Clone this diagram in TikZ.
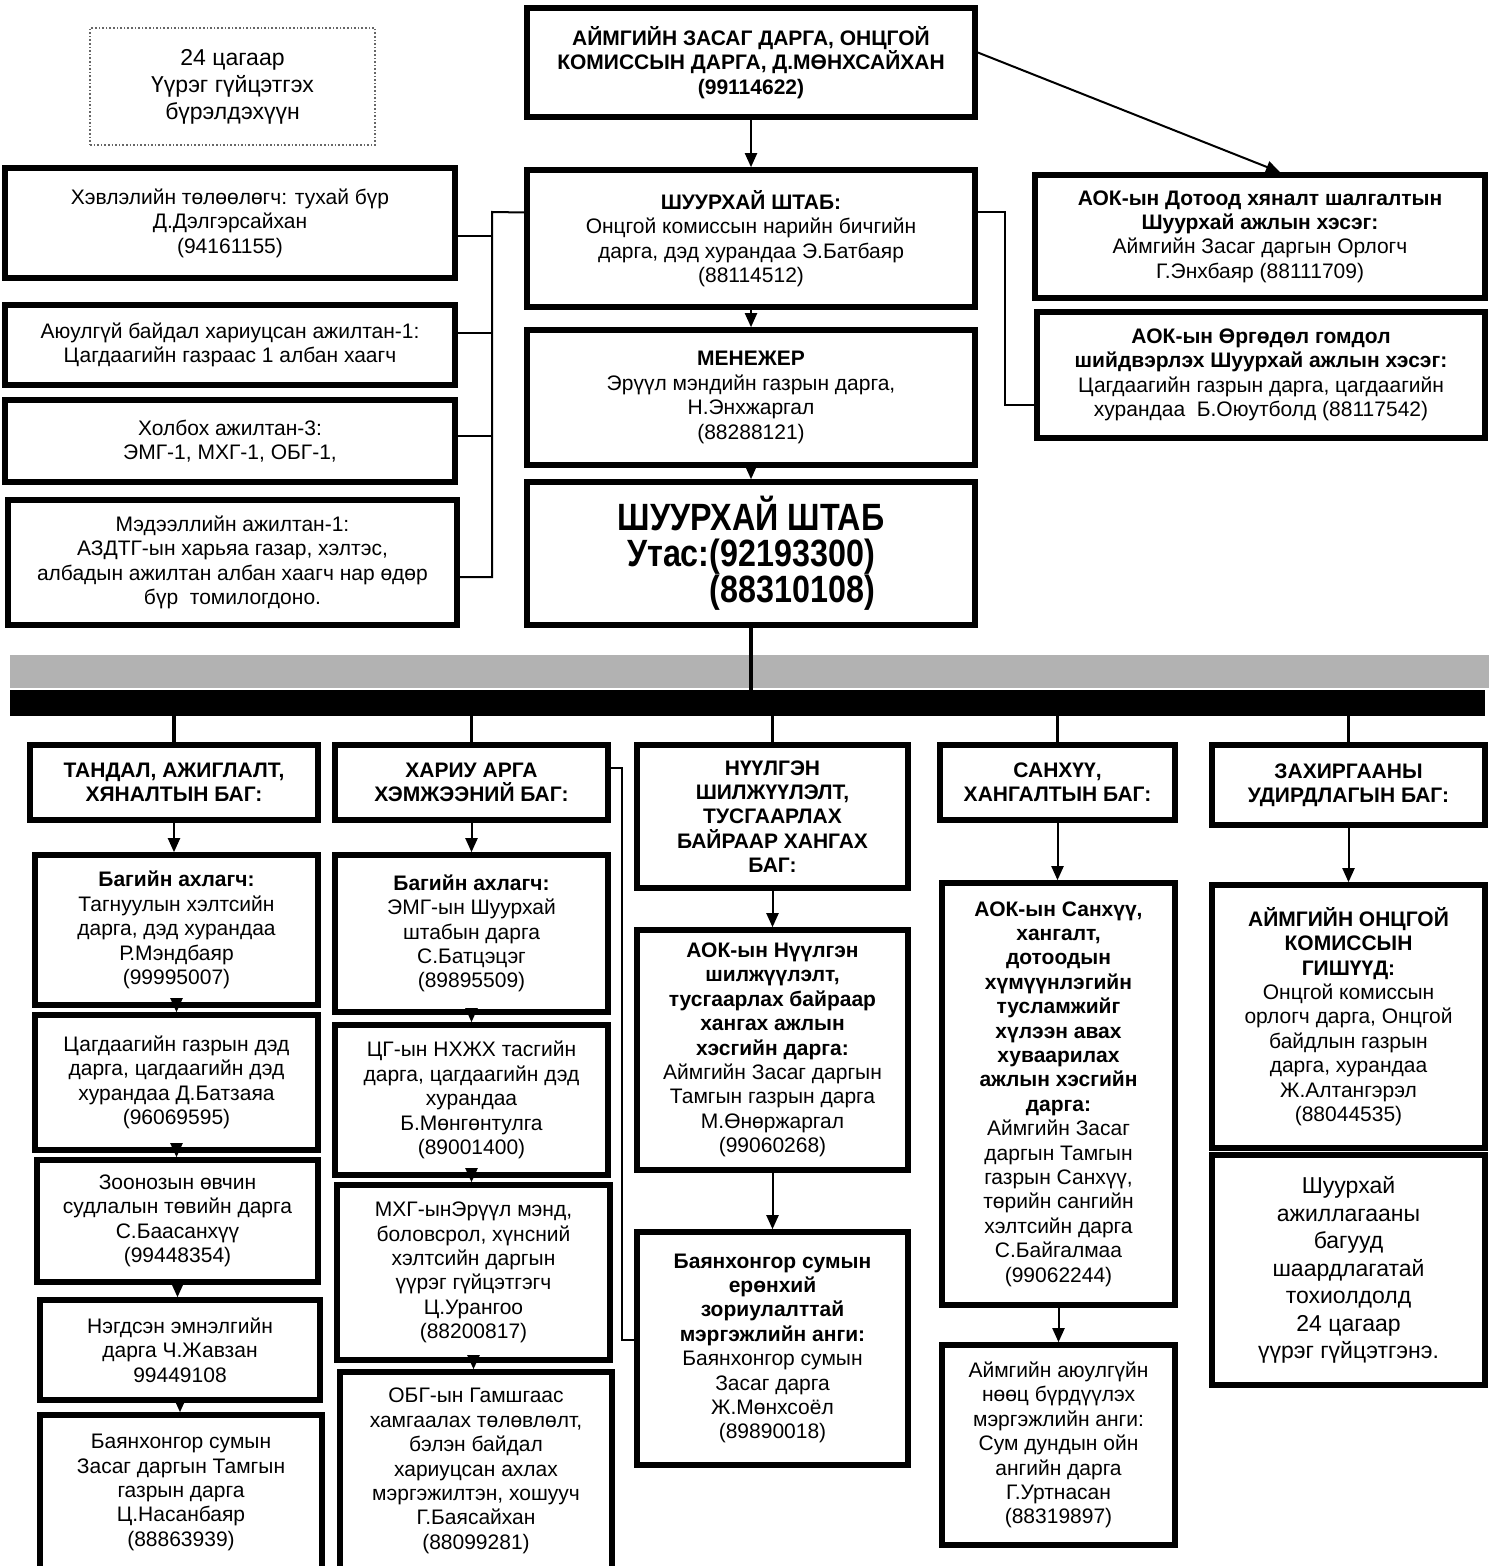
\documentclass[tikz,border=0pt]{standalone}
\usepackage{fontspec}
\setmainfont{Liberation Sans}
\newfontfamily\narrowsans[FakeStretch=0.85]{Liberation Sans}
\usetikzlibrary{arrows.meta}

\begin{document}
\begin{tikzpicture}[x=0.5pt,y=-0.5pt,
    box/.style={draw,line width=2.8pt,align=center,inner sep=2pt,font=\fontsize{10.5}{12.2}\selectfont},
    link/.style={line width=1pt},
    drop/.style={line width=1.6pt},
    arr/.style={line width=1pt,-{Triangle[length=7pt,width=6pt]}}]
    \useasboundingbox (0,0) rectangle (1489,1566);

    % upper part
    \node[draw=gray!80!black,densely dotted,line width=0.8pt,align=center,minimum width=142.5pt,minimum height=58.5pt,font=\fontsize{11.5}{13.5}\selectfont] (note) at (232.5,86.5) {24 цагаар\\Үүрэг гүйцэтгэх\\бүрэлдэхүүн};
    \node[box,minimum width=224pt,minimum height=54.5pt] (head) at (751,62.5) {\bfseries АЙМГИЙН ЗАСАГ ДАРГА, ОНЦГОЙ\\\bfseries КОМИССЫН ДАРГА, Д.МӨНХСАЙХАН\\\bfseries (99114622)};
    \node[box,minimum width=224pt,minimum height=68.5pt] (shtab) at (751,238.5) {\textbf{ШУУРХАЙ ШТАБ:}\\Онцгой комиссын нарийн бичгийн\\дарга, дэд хурандаа Э.Батбаяр\\(88114512)};
    \node[box,minimum width=224pt,minimum height=67.5pt] (manager) at (751,397.5) {\textbf{МЕНЕЖЕР}\\Эрүүл мэндийн газрын дарга,\\Н.Энхжаргал\\(88288121)};
    \node[box,minimum width=224pt,minimum height=71.5pt,font=\narrowsans\bfseries\fontsize{19}{18}\selectfont] (hq) at (751,553.5) {ШУУРХАЙ ШТАБ\\Утас:(92193300)\\\hphantom{Утас:}(88310108)};

    \node[box,minimum width=225pt,minimum height=55pt] (press) at (230,223) {Хэвлэлийн төлөөлөгч: тухай бүр\\Д.Дэлгэрсайхан\\(94161155)};
    \node[box,minimum width=225pt,minimum height=40pt] (safety) at (230,345) {Аюулгүй байдал хариуцсан ажилтан-1:\\Цагдаагийн газраас 1 албан хаагч};
    \node[box,minimum width=225pt,minimum height=41pt] (liaison) at (230,441) {Холбох ажилтан-3:\\ЭМГ-1, МХГ-1, ОБГ-1,};
    \node[box,minimum width=224.5pt,minimum height=62.5pt] (info) at (232.5,562.5) {Мэдээллийн ажилтан-1:\\АЗДТГ-ын харьяа газар, хэлтэс,\\албадын ажилтан албан хаагч нар өдөр\\бүр~~томилогдоно.};

    \node[box,minimum width=225pt,minimum height=61.5pt] (audit) at (1260,236.5) {\bfseries АОК-ын Дотоод хяналт шалгалтын\\\bfseries Шуурхай ажлын хэсэг:\\Аймгийн Засаг даргын Орлогч\\Г.Энхбаяр (88111709)};
    \node[box,minimum width=224pt,minimum height=63pt] (appeal) at (1261,375) {\bfseries АОК-ын Өргөдөл гомдол\\\bfseries шийдвэрлэх Шуурхай ажлын хэсэг:\\Цагдаагийн газрын дарга, цагдаагийн\\хурандаа~~Б.Оюутболд (88117542)};

    \draw[arr] (head) -- (shtab);
    \draw[arr] (shtab) -- (manager);
    \draw[arr] (manager) -- (hq);
    \draw[arr] ([yshift=5pt]head.east) -- ([xshift=10pt]audit.north);

    \coordinate (lbus) at (492,212);
    \coordinate (lbusend) at (492,577);
    \draw[link] ([yshift=13pt]shtab.west) -- (lbus) -- (lbusend) -- (lbusend -| info.east);
    \draw[link] ([yshift=-6.5pt]press.east) -- ([yshift=-6.5pt]press.east -| lbus);
    \draw[link] ([yshift=6pt]safety.east) -- ([yshift=6pt]safety.east -| lbus);
    \draw[link] ([yshift=2.5pt]liaison.east) -- ([yshift=2.5pt]liaison.east -| lbus);
    \coordinate (rbus) at (1005,405);
    \draw[link] ([yshift=13pt]shtab.east) -| (rbus) -- (rbus -| appeal.west);

    % band and bar
    \fill[gray!60] (10,655) rectangle (1489,688);
    \node[fill=black,inner sep=0pt,minimum width=737.5pt,minimum height=13pt] (bar) at (747.5,703) {};
    \draw[drop] (hq.south) -- (hq.south |- bar.north);

    % teams
    \node[box,minimum width=144pt,minimum height=37.5pt] (t1) at (174,782.5) {\bfseries ТАНДАЛ, АЖИГЛАЛТ,\\\bfseries ХЯНАЛТЫН БАГ:};
    \node[box,minimum width=136.5pt,minimum height=37.5pt] (t2) at (471.5,782.5) {\bfseries ХАРИУ АРГА\\\bfseries ХЭМЖЭЭНИЙ БАГ:};
    \node[box,minimum width=135.5pt,minimum height=71.5pt] (t3) at (772.5,816.5) {\bfseries НҮҮЛГЭН\\\bfseries ШИЛЖҮҮЛЭЛТ,\\\bfseries ТУСГААРЛАХ\\\bfseries БАЙРААР ХАНГАХ\\\bfseries БАГ:};
    \node[box,minimum width=117.5pt,minimum height=37.5pt] (t4) at (1057.5,782.5) {\bfseries САНХҮҮ,\\\bfseries ХАНГАЛТЫН БАГ:};
    \node[box,minimum width=136.5pt,minimum height=40pt] (t5) at (1348.5,785) {\bfseries ЗАХИРГААНЫ\\\bfseries УДИРДЛАГЫН БАГ:};
    \foreach \t in {t1,t2,t3,t4,t5}
        \draw[drop] (bar.south -| \t.north) -- (\t.north);

    % column 1
    \node[box,minimum width=141.5pt,minimum height=75pt] (a1) at (176.5,930) {\textbf{Багийн ахлагч:}\\Тагнуулын хэлтсийн\\дарга, дэд хурандаа\\Р.Мэндбаяр\\(99995007)};
    \node[box,minimum width=141.5pt,minimum height=67.5pt] (a2) at (176.5,1082.5) {Цагдаагийн газрын дэд\\дарга, цагдаагийн дэд\\хурандаа Д.Батзаяа\\(96069595)};
    \node[box,minimum width=140.5pt,minimum height=61pt] (a3) at (177.5,1221) {Зоонозын өвчин\\судлалын төвийн дарга\\С.Баасанхүү\\(99448354)};
    \node[box,minimum width=140pt,minimum height=50pt] (a4) at (180,1350) {Нэгдсэн эмнэлгийн\\дарга Ч.Жавзан\\99449108};
    \node[box,minimum width=141pt,minimum height=77.5pt] (a5) at (181,1492.5) {Баянхонгор сумын\\Засаг даргын Тамгын\\газрын дарга\\Ц.Насанбаяр\\(88863939)};

    % column 2
    \node[box,minimum width=136.5pt,minimum height=78.5pt] (b1) at (471.5,933.5) {\textbf{Багийн ахлагч:}\\ЭМГ-ын Шуурхай\\штабын дарга\\С.Батцэцэг\\(89895509)};
    \node[box,minimum width=136.5pt,minimum height=75pt] (b2) at (471.5,1100) {ЦГ-ын НХЖХ тасгийн\\дарга, цагдаагийн дэд\\хурандаа\\Б.Мөнгөнтулга\\(89001400)};
    \node[box,minimum width=136.5pt,minimum height=87.5pt] (b3) at (473.5,1272.5) {МХГ-ынЭрүүл мэнд,\\боловсрол, хүнсний\\хэлтсийн даргын\\үүрэг гүйцэтгэгч\\Ц.Урангоо\\(88200817)};
    \node[box,minimum width=136pt,minimum height=99pt] (b4) at (476,1471) {ОБГ-ын Гамшгаас\\хамгаалах төлөвлөлт,\\бэлэн байдал\\хариуцсан ахлах\\мэргэжилтэн, хошууч\\Г.Баясайхан\\(88099281)};

    % column 3
    \node[box,minimum width=135.5pt,minimum height=120pt] (c1) at (772.5,1050) {\bfseries АОК-ын Нүүлгэн\\\bfseries шилжүүлэлт,\\\bfseries тусгаарлах байраар\\\bfseries хангах ажлын\\\bfseries хэсгийн дарга:\\Аймгийн Засаг даргын\\Тамгын газрын дарга\\М.Өнөржаргал\\(99060268)};
    \node[box,minimum width=135.5pt,minimum height=116.5pt] (c2) at (772.5,1348.5) {\bfseries Баянхонгор сумын\\\bfseries ерөнхий\\\bfseries зориулалттай\\\bfseries мэргэжлийн анги:\\Баянхонгор сумын\\Засаг дарга\\Ж.Мөнхсоёл\\(89890018)};

    % column 4
    \node[box,minimum width=116.5pt,minimum height=211pt] (d1) at (1058.5,1094) {\bfseries АОК-ын Санхүү,\\\bfseries хангалт,\\\bfseries дотоодын\\\bfseries хүмүүнлэгийн\\\bfseries тусламжийг\\\bfseries хүлээн авах\\\bfseries хуваарилах\\\bfseries ажлын хэсгийн\\\bfseries дарга:\\Аймгийн Засаг\\даргын Тамгын\\газрын Санхүү,\\төрийн сангийн\\хэлтсийн дарга\\С.Байгалмаа\\(99062244)};
    \node[box,minimum width=116.5pt,minimum height=100pt] (d2) at (1058.5,1445) {Аймгийн аюулгүйн\\нөөц бүрдүүлэх\\мэргэжлийн анги:\\Сум дундын ойн\\ангийн дарга\\Г.Уртнасан\\(88319897)};

    % column 5
    \node[box,minimum width=136.5pt,minimum height=131.5pt] (e1) at (1348.5,1016.5) {\bfseries АЙМГИЙН ОНЦГОЙ\\\bfseries КОМИССЫН\\\bfseries ГИШҮҮД:\\Онцгой комиссын\\орлогч дарга, Онцгой\\байдлын газрын\\дарга, хурандаа\\Ж.Алтангэрэл\\(88044535)};
    \node[box,minimum width=136.5pt,minimum height=115pt,font=\fontsize{11.5}{13.75}\selectfont] (e2) at (1348.5,1270) {Шуурхай\\ажиллагааны\\багууд\\шаардлагатай\\тохиолдолд\\24 цагаар\\үүрэг гүйцэтгэнэ.};

    % arrows in the columns
    \draw[arr] (t1.south) -- (t1.south |- a1.north);
    \draw[arr] (a1.south) -- (a1.south |- a2.north);
    \draw[arr] (a2.south) -- (a2.south |- a3.north);
    \draw[arr] (a3.south) -- (a3.south |- a4.north);
    \draw[arr] (a4.south) -- (a4.south |- a5.north);
    \draw[arr] (t2.south) -- (t2.south |- b1.north);
    \draw[arr] (b1.south) -- (b1.south |- b2.north);
    \draw[arr] (b2.south) -- (b2.south |- b3.north);
    \draw[arr] (b3.south) -- (b3.south |- b4.north);
    \draw[arr] (t3.south) -- (t3.south |- c1.north);
    \draw[arr] (c1.south) -- (c1.south |- c2.north);
    \draw[arr] (t4.south) -- (t4.south |- d1.north);
    \draw[arr] (d1.south) -- (d1.south |- d2.north);
    \draw[arr] (t5.south) -- (t5.south |- e1.north);

    \coordinate (hbus) at (622,768);
    \coordinate (hbusend) at (622,1340);
    \draw[link] (t2.east |- hbus) -- (hbus) -- (hbusend) -- (hbusend -| c2.west);
\end{tikzpicture}
\end{document}
